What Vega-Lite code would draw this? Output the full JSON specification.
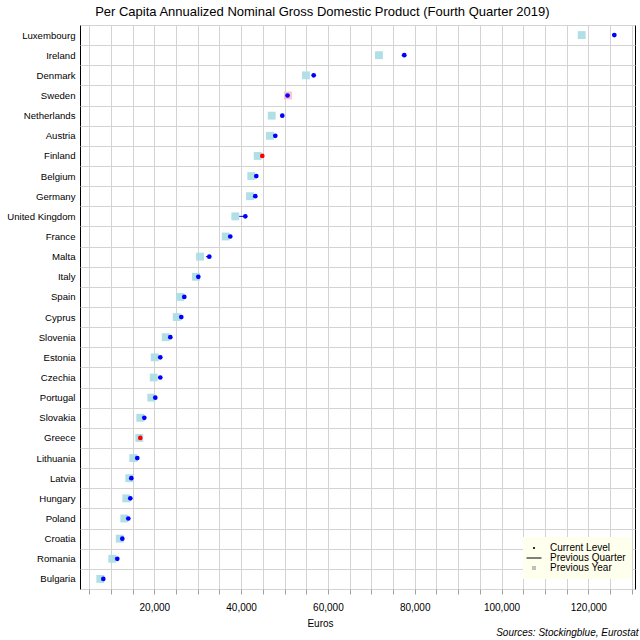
{
  "$schema": "https://vega.github.io/schema/vega-lite/v6.json",
  "autosize": "none",
  "width": 555,
  "height": 564,
  "padding": {"left": 80, "top": 25, "right": 5, "bottom": 51},
  "background": "white",
  "title": {
    "text": "Per Capita Annualized Nominal Gross Domestic Product (Fourth Quarter 2019)",
    "fontSize": 13,
    "font": "Liberation Sans",
    "fontWeight": "normal",
    "color": "black",
    "anchor": "middle",
    "frame": "bounds",
    "offset": 1
  },
  "config": {
    "view": {"stroke": "black", "strokeWidth": 1},
    "font": "Liberation Sans"
  },
  "datasets": {
    "gdp": [
      {"country": "Luxembourg", "current": 126000, "prevQuarter": 125500, "prevYear": 118480},
      {"country": "Ireland", "current": 77600, "prevQuarter": 77000, "prevYear": 71770},
      {"country": "Denmark", "current": 56730, "prevQuarter": 56300, "prevYear": 54950},
      {"country": "Sweden", "current": 50700, "prevQuarter": 50400, "prevYear": 50800},
      {"country": "Netherlands", "current": 49490, "prevQuarter": 49100, "prevYear": 47050},
      {"country": "Austria", "current": 47880, "prevQuarter": 47500, "prevYear": 46660},
      {"country": "Finland", "current": 44880, "prevQuarter": 45100, "prevYear": 43820},
      {"country": "Belgium", "current": 43500, "prevQuarter": 43200, "prevYear": 42350},
      {"country": "Germany", "current": 43270, "prevQuarter": 43000, "prevYear": 42050},
      {"country": "United Kingdom", "current": 40970, "prevQuarter": 39000, "prevYear": 38660},
      {"country": "France", "current": 37510, "prevQuarter": 37200, "prevYear": 36450},
      {"country": "Malta", "current": 32670, "prevQuarter": 31900, "prevYear": 30530},
      {"country": "Italy", "current": 30140, "prevQuarter": 29900, "prevYear": 29610},
      {"country": "Spain", "current": 26910, "prevQuarter": 26600, "prevYear": 25920},
      {"country": "Cyprus", "current": 26220, "prevQuarter": 25900, "prevYear": 25160},
      {"country": "Slovenia", "current": 23690, "prevQuarter": 23400, "prevYear": 22630},
      {"country": "Estonia", "current": 21380, "prevQuarter": 21000, "prevYear": 20090},
      {"country": "Czechia", "current": 21380, "prevQuarter": 21000, "prevYear": 19860},
      {"country": "Portugal", "current": 20230, "prevQuarter": 20000, "prevYear": 19310},
      {"country": "Slovakia", "current": 17700, "prevQuarter": 17450, "prevYear": 16770},
      {"country": "Greece", "current": 16770, "prevQuarter": 16900, "prevYear": 16540},
      {"country": "Lithuania", "current": 16080, "prevQuarter": 15850, "prevYear": 15160},
      {"country": "Latvia", "current": 14700, "prevQuarter": 14500, "prevYear": 14240},
      {"country": "Hungary", "current": 14470, "prevQuarter": 14250, "prevYear": 13550},
      {"country": "Poland", "current": 14010, "prevQuarter": 13800, "prevYear": 13090},
      {"country": "Croatia", "current": 12630, "prevQuarter": 12400, "prevYear": 12030},
      {"country": "Romania", "current": 11470, "prevQuarter": 11250, "prevYear": 10320},
      {"country": "Bulgaria", "current": 8250, "prevQuarter": 8050, "prevYear": 7560}
    ],
    "legendItems": [
      {"series": "Current Level"},
      {"series": "Previous Quarter"},
      {"series": "Previous Year"}
    ]
  },
  "resolve": {"scale": {"x": "independent"}, "axis": {"x": "independent"}},
  "layer": [
    {
      "data": {"name": "gdp"},
      "encoding": {
        "y": {
          "field": "country",
          "type": "nominal",
          "sort": null,
          "scale": {"type": "band", "paddingInner": 0, "paddingOuter": 0},
          "axis": {
            "title": null,
            "ticks": false,
            "domain": false,
            "labelPadding": 5,
            "labelFontSize": 9.6,
            "labelFont": "Liberation Sans",
            "labelColor": "black",
            "labelLimit": 0,
            "labelDy": 1.5,
            "grid": true,
            "gridColor": "#d3d3d3",
            "tickBand": "extent"
          }
        }
      },
      "layer": [
        {
          "mark": {"type": "rule", "strokeWidth": 1},
          "encoding": {
            "x": {
              "field": "prevQuarter",
              "type": "quantitative",
              "scale": {"domain": [2880, 130760], "nice": false, "zero": false},
              "axis": {
                "title": "Euros",
                "values": [5000, 10000, 15000, 20000, 25000, 30000, 35000, 40000, 45000, 50000, 55000, 60000, 65000, 70000, 75000, 80000, 85000, 90000, 95000, 100000, 105000, 110000, 115000, 120000, 125000, 130000],
                "labelExpr": "datum.value % 20000 === 0 ? format(datum.value, ',') : ''",
                "labelOverlap": false,
                "labelFlush": false,
                "labelBound": false,
                "grid": true,
                "gridColor": "#d3d3d3",
                "domain": false,
                "tickSize": 5,
                "tickColor": "#a0a0a0",
                "labelPadding": 8,
                "labelFontSize": 10,
                "labelFont": "Liberation Sans",
                "labelColor": "black",
                "titleFontSize": 10,
                "titleFont": "Liberation Sans",
                "titleFontWeight": "normal",
                "titleColor": "black",
                "titleX": 240,
                "titleY": 37,
                "titleBaseline": "alphabetic",
                "titleAlign": "center"
              }
            },
            "x2": {"field": "current"},
            "color": {"condition": {"test": "datum.current < datum.prevQuarter", "value": "red"}, "value": "blue"}
          }
        },
        {
          "mark": {"type": "square", "size": 62, "filled": true, "opacity": 1},
          "encoding": {
            "x": {
              "field": "prevYear",
              "type": "quantitative",
              "scale": {"domain": [2880, 130760], "nice": false, "zero": false},
              "axis": {
                "title": "Euros",
                "values": [5000, 10000, 15000, 20000, 25000, 30000, 35000, 40000, 45000, 50000, 55000, 60000, 65000, 70000, 75000, 80000, 85000, 90000, 95000, 100000, 105000, 110000, 115000, 120000, 125000, 130000],
                "labelExpr": "datum.value % 20000 === 0 ? format(datum.value, ',') : ''",
                "labelOverlap": false,
                "labelFlush": false,
                "labelBound": false,
                "grid": true,
                "gridColor": "#d3d3d3",
                "domain": false,
                "tickSize": 5,
                "tickColor": "#a0a0a0",
                "labelPadding": 8,
                "labelFontSize": 10,
                "labelFont": "Liberation Sans",
                "labelColor": "black",
                "titleFontSize": 10,
                "titleFont": "Liberation Sans",
                "titleFontWeight": "normal",
                "titleColor": "black",
                "titleX": 240,
                "titleY": 37,
                "titleBaseline": "alphabetic",
                "titleAlign": "center"
              }
            },
            "color": {"condition": {"test": "datum.current < datum.prevYear", "value": "#ffc0cb"}, "value": "#b0e0e6"}
          }
        },
        {
          "mark": {"type": "circle", "size": 22, "opacity": 1},
          "encoding": {
            "x": {
              "field": "current",
              "type": "quantitative",
              "scale": {"domain": [2880, 130760], "nice": false, "zero": false},
              "axis": {
                "title": "Euros",
                "values": [5000, 10000, 15000, 20000, 25000, 30000, 35000, 40000, 45000, 50000, 55000, 60000, 65000, 70000, 75000, 80000, 85000, 90000, 95000, 100000, 105000, 110000, 115000, 120000, 125000, 130000],
                "labelExpr": "datum.value % 20000 === 0 ? format(datum.value, ',') : ''",
                "labelOverlap": false,
                "labelFlush": false,
                "labelBound": false,
                "grid": true,
                "gridColor": "#d3d3d3",
                "domain": false,
                "tickSize": 5,
                "tickColor": "#a0a0a0",
                "labelPadding": 8,
                "labelFontSize": 10,
                "labelFont": "Liberation Sans",
                "labelColor": "black",
                "titleFontSize": 10,
                "titleFont": "Liberation Sans",
                "titleFontWeight": "normal",
                "titleColor": "black",
                "titleX": 240,
                "titleY": 37,
                "titleBaseline": "alphabetic",
                "titleAlign": "center"
              }
            },
            "color": {"condition": {"test": "datum.current < datum.prevQuarter", "value": "red"}, "value": "blue"}
          }
        }
      ]
    },
    {
      "data": {"name": "legendItems"},
      "mark": {"type": "point", "filled": true, "opacity": 0},
      "encoding": {
        "x": {
          "field": "series",
          "type": "nominal",
          "axis": {
            "orient": "bottom",
            "title": "Sources: Stockingblue, Eurostat",
            "labels": false,
            "ticks": false,
            "domain": false,
            "grid": false,
            "titleFontStyle": "italic",
            "titleFontWeight": "normal",
            "titleFontSize": 10,
            "titleFont": "Liberation Sans",
            "titleColor": "black",
            "titleX": 558,
            "titleY": 46,
            "titleAlign": "right",
            "titleBaseline": "alphabetic"
          }
        },
        "color": {
          "field": "series",
          "type": "nominal",
          "scale": {"domain": ["Current Level", "Previous Quarter", "Previous Year"], "range": ["black", "black", "#c0c0c0"]},
          "legend": {
            "title": null,
            "orient": "none",
            "legendX": 443,
            "legendY": 512,
            "fillColor": "#ffffee",
            "padding": 6,
            "symbolSize": 100,
            "labelOffset": 11,
            "rowPadding": 0,
            "labelFontSize": 10,
            "labelFont": "Liberation Sans",
            "labelColor": "black",
            "symbolOpacity": 1,
            "encode": {
              "symbols": {
                "update": {
                  "shape": {"signal": "datum.value === 'Previous Quarter' ? 'stroke' : (datum.value === 'Previous Year' ? 'square' : 'circle')"},
                  "size": {"signal": "datum.value === 'Previous Quarter' ? 225 : (datum.value === 'Previous Year' ? 16 : 5)"},
                  "fill": {"signal": "datum.value === 'Previous Quarter' ? 'transparent' : (datum.value === 'Previous Year' ? '#c0c0c0' : 'black')"},
                  "stroke": {"signal": "datum.value === 'Previous Quarter' ? 'black' : 'transparent'"},
                  "strokeWidth": {"value": 1},
                  "opacity": {"value": 1}
                }
              }
            }
          }
        }
      }
    }
  ]
}
